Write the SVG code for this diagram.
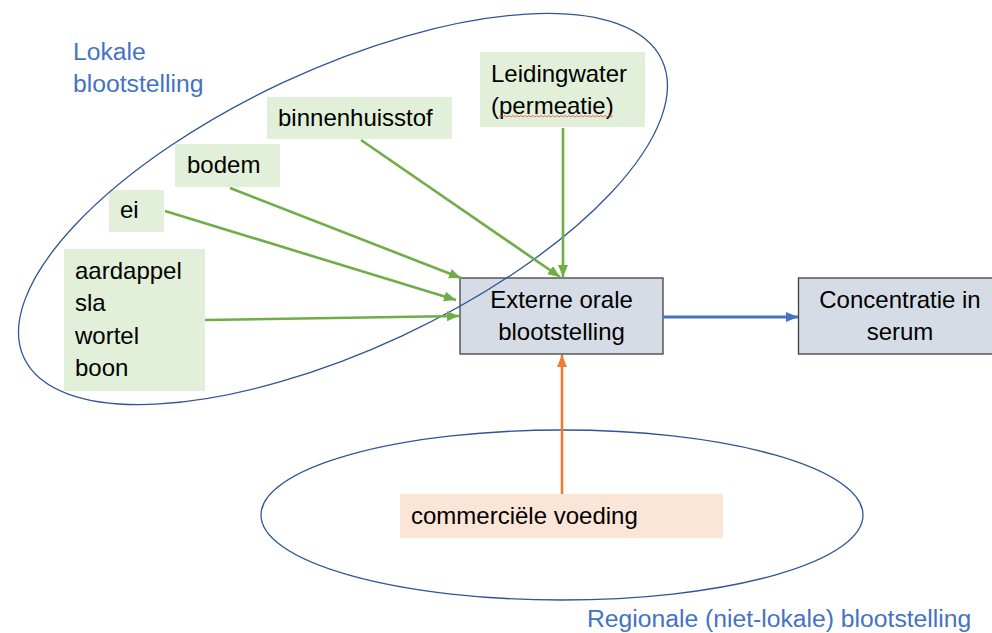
<svg xmlns="http://www.w3.org/2000/svg" width="992" height="633" viewBox="0 0 992 633">
<style>
text{font-family:"Liberation Sans",Arial,sans-serif;font-size:24px;fill:#000}
.blue{fill:#4472C4;font-size:24.7px}
.g{fill:#E2F0D9}
.box{fill:#D6DCE5;stroke:#404040;stroke-width:1.3}
.grp{fill:none;stroke:#2F5597;stroke-width:1.3}
.ga{stroke:#70AD47;stroke-width:2.6;fill:none;marker-end:url(#mg)}
</style>
<defs>
<marker id="mg" markerUnits="userSpaceOnUse" markerWidth="14" markerHeight="12" refX="12" refY="5" orient="auto" viewBox="0 0 14 10"><path d="M0,0 L12,5 L0,10 Z" fill="#70AD47"/></marker>
<marker id="mb" markerUnits="userSpaceOnUse" markerWidth="14" markerHeight="12" refX="12" refY="5" orient="auto" viewBox="0 0 14 10"><path d="M0,0 L12,5 L0,10 Z" fill="#4472C4"/></marker>
<marker id="mo" markerUnits="userSpaceOnUse" markerWidth="14" markerHeight="12" refX="12" refY="5" orient="auto" viewBox="0 0 14 10"><path d="M0,0 L12,5 L0,10 Z" fill="#ED7D31"/></marker>
</defs>
<rect width="992" height="633" fill="#fff"/>

<g id="label-lokaal">
<text class="blue" x="73" y="60">Lokale</text>
<text class="blue" x="73" y="92">blootstelling</text>
</g>
<g id="label-regionaal">
<text class="blue" x="587" y="627">Regionale (niet-lokale) blootstelling</text>
</g>

<g id="leidingwater">
<rect class="g" x="480" y="52" width="165" height="75"/>
<text x="491" y="82">Leidingwater</text>
<text x="491" y="114">(permeatie)</text>
<path d="M499,117 l2,-1.5 l2,1.5 l2,-1.5 l2,1.5 l2,-1.5 l2,1.5 l2,-1.5 l2,1.5 l2,-1.5 l2,1.5 l2,-1.5 l2,1.5 l2,-1.5 l2,1.5 l2,-1.5 l2,1.5 l2,-1.5 l2,1.5 l2,-1.5 l2,1.5 l2,-1.5 l2,1.5 l2,-1.5 l2,1.5 l2,-1.5 l2,1.5 l2,-1.5 l2,1.5 l2,-1.5 l2,1.5 l2,-1.5 l2,1.5 l2,-1.5 l2,1.5 l2,-1.5 l2,1.5 l2,-1.5 l2,1.5 l2,-1.5 l2,1.5 l2,-1.5 l2,1.5 l2,-1.5 l2,1.5 l2,-1.5 l2,1.5 l2,-1.5 l2,1.5 l2,-1.5 l2,1.5 l2,-1.5 l2,1.5 l2,-1.5 l2,1.5 l2,-1.5 l2,1.5 l2,-1.5" fill="none" stroke="#E05050" stroke-width="0.8"/>
</g>
<g id="binnenhuisstof">
<rect class="g" x="267" y="97" width="185" height="42"/>
<text x="278" y="126">binnenhuisstof</text>
</g>
<g id="bodem">
<rect class="g" x="175" y="144" width="105" height="43"/>
<text x="187" y="173">bodem</text>
</g>
<g id="ei">
<rect class="g" x="109" y="190" width="55" height="42"/>
<text x="120" y="218">ei</text>
</g>
<g id="groenten">
<rect class="g" x="64" y="249" width="141" height="142"/>
<text x="75" y="279">aardappel</text>
<text x="75" y="311">sla</text>
<text x="75" y="344">wortel</text>
<text x="75" y="376">boon</text>
</g>
<g id="commercieel">
<rect x="400" y="494" width="323" height="44" fill="#FBE5D6"/>
<text x="411" y="524">commerciële voeding</text>
</g>
<g id="externe">
<rect class="box" x="460" y="278" width="203" height="76"/>
<text x="561.5" y="308" text-anchor="middle">Externe orale</text>
<text x="561.5" y="340" text-anchor="middle">blootstelling</text>
</g>
<g id="serum">
<rect class="box" x="798.5" y="278" width="200" height="76"/>
<text x="900" y="308" text-anchor="middle">Concentratie in</text>
<text x="900" y="340" text-anchor="middle">serum</text>
</g>

<g id="groepen">
<ellipse class="grp" cx="343" cy="209" rx="352" ry="140" transform="rotate(-25 343 209)"/>
<ellipse class="grp" cx="562" cy="515" rx="301" ry="85"/>
</g>

<g id="connectors">
<line class="ga" x1="361" y1="140" x2="560" y2="277"/>
<line class="ga" x1="563" y1="128" x2="563" y2="277"/>
<line class="ga" x1="230" y1="188" x2="461" y2="278"/>
<line class="ga" x1="165" y1="211" x2="456" y2="300"/>
<line class="ga" x1="205" y1="320" x2="459" y2="316"/>
<line x1="663" y1="317" x2="798" y2="317" stroke="#4472C4" stroke-width="3" marker-end="url(#mb)"/>
<line x1="562" y1="494" x2="562" y2="355" stroke="#ED7D31" stroke-width="2.6" marker-end="url(#mo)"/>
</g>
</svg>
